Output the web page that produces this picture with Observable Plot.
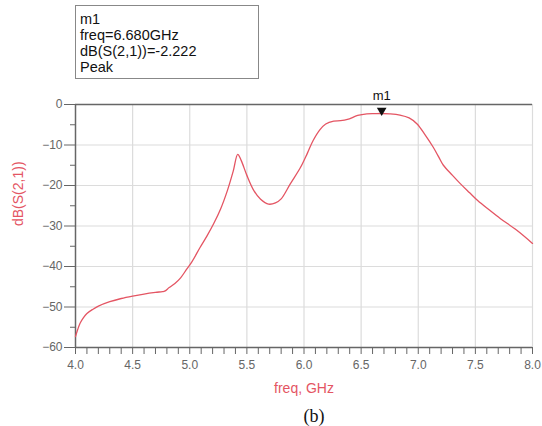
<!DOCTYPE html>
<html>
<head>
<meta charset="utf-8">
<script src="https://cdn.jsdelivr.net/npm/d3@7"></script>
<script src="https://cdn.jsdelivr.net/npm/@observablehq/plot@0.6"></script>
<style>
  body { margin: 0; background: #fff; }
  #wrap { position: relative; width: 542px; height: 426px; overflow: hidden; font-family: "Liberation Sans", Arial, sans-serif; }
  #box { position: absolute; left: 75px; top: 5px; width: 178px; height: 67px; border: 1px solid #888; padding: 5px 0 0 4px; font-size: 14.5px; line-height: 16px; color: #111; }
  #cap { position: absolute; left: 264px; width: 100px; top: 407px; text-align: center; font: 18px/19px "Liberation Serif", "Times New Roman", serif; color: #111; }
</style>
</head>
<body>
<div id="wrap">
  <div id="chart"></div>
  <div id="box"></div>
  <div id="cap"></div>
</div>
<script>
const freq = [4.00,4.02,4.04,4.07,4.10,4.15,4.20,4.30,4.40,4.50,4.60,4.70,4.76,4.78,4.82,4.87,4.92,4.97,5.02,5.09,5.15,5.21,5.27,5.33,5.38,5.42,5.45,5.50,5.56,5.62,5.69,5.75,5.80,5.88,5.97,6.03,6.08,6.14,6.19,6.26,6.32,6.38,6.47,6.55,6.62,6.68,6.75,6.84,6.92,6.99,7.06,7.13,7.18,7.22,7.30,7.37,7.45,7.52,7.62,7.72,7.86,8.00];
const s21 = [-57.3,-55.5,-54.0,-52.6,-51.6,-50.6,-49.8,-48.7,-47.9,-47.3,-46.8,-46.4,-46.2,-46.1,-45.2,-44.2,-42.8,-40.8,-38.8,-35.3,-32.5,-29.4,-25.8,-21.2,-16.5,-12.3,-13.8,-17.5,-21.2,-23.4,-24.6,-24.3,-23.3,-19.6,-15.5,-12.0,-8.9,-6.2,-4.8,-4.1,-4.0,-3.7,-2.7,-2.3,-2.25,-2.222,-2.3,-2.6,-3.3,-4.8,-7.5,-10.5,-13.0,-15.0,-17.5,-19.6,-21.8,-23.7,-26.0,-28.2,-31.0,-34.3];
const xMajor = [4.0,4.5,5.0,5.5,6.0,6.5,7.0,7.5,8.0];
const xMinor = [4.1,4.2,4.3,4.4,4.6,4.7,4.8,4.9,5.1,5.2,5.3,5.4,5.6,5.7,5.8,5.9,6.1,6.2,6.3,6.4,6.6,6.7,6.8,6.9,7.1,7.2,7.3,7.4,7.6,7.7,7.8,7.9];
const yMajor = [0,-10,-20,-30,-40,-50,-60];
const yMinor = [-5,-15,-25,-35,-45,-55];
const marker = {name: "m1", freq: 6.680, value: -2.222, kind: "Peak"};
const xLabel = "freq, GHz";
const yLabel = "dB(S(2,1))";
const caption = "(b)";

const data = freq.map((f, i) => ({f, v: s21[i]}));
const axisColor = "#666";
const gridColor = "#dcdcdc";
const red = "#e45563";

const chart = Plot.plot({
  width: 542,
  height: 404,
  marginLeft: 75,
  marginRight: 10,
  marginTop: 104,
  marginBottom: 57,
  x: {domain: [4, 8]},
  y: {domain: [-60, 0]},
  style: {fontFamily: "Liberation Sans, Arial, sans-serif", background: "white"},
  marks: [
    Plot.ruleX(xMajor.slice(1), {stroke: gridColor, strokeWidth: 1.2}),
    Plot.ruleY(yMajor.slice(1, -1), {stroke: gridColor, strokeWidth: 1.2}),
    Plot.ruleY([0, -60], {stroke: axisColor, strokeWidth: 1.5}),
    Plot.ruleX([4], {stroke: axisColor, strokeWidth: 1.5}),
    Plot.axisX({ticks: xMajor, tickFormat: d3.format(".1f"), tickSize: 7, tickPadding: 6, fontSize: 12, color: "#666", stroke: axisColor, label: null}),
    Plot.axisX({ticks: xMinor, tickSize: 7, tickFormat: null, text: null, stroke: axisColor, label: null}),
    Plot.axisY({ticks: yMajor, tickSize: 11, tickPadding: 2, fontSize: 12, color: "#666", stroke: axisColor, label: null}),
    Plot.axisY({ticks: yMinor, tickSize: 5, text: null, stroke: axisColor, label: null}),
    Plot.line(data, {x: "f", y: "v", stroke: red, strokeWidth: 1.3, curve: "catmull-rom"}),
    Plot.dot([marker], {x: "freq", y: "value", symbol: "triangle", rotate: 180, r: 3.6, fill: "#111", stroke: null, dy: -3}),
    Plot.text([marker], {x: "freq", y: "value", text: "name", dy: -18, fontSize: 13, fill: "#111"}),
    Plot.text([xLabel], {frameAnchor: "bottom", dy: 45, fontSize: 14, fill: red, text: d => d}),
    Plot.text([yLabel], {frameAnchor: "left", dx: -57, rotate: -90, fontSize: 14, fill: red, text: d => d})
  ]
});
document.getElementById("chart").appendChild(chart);

const box = document.getElementById("box");
box.innerHTML = [marker.name, `freq=${marker.freq.toFixed(3)}GHz`, `dB(S(2,1))=${marker.value.toFixed(3)}`, marker.kind].map(t => `<div>${t}</div>`).join("");
document.getElementById("cap").textContent = caption;
</script>
</body>
</html>
